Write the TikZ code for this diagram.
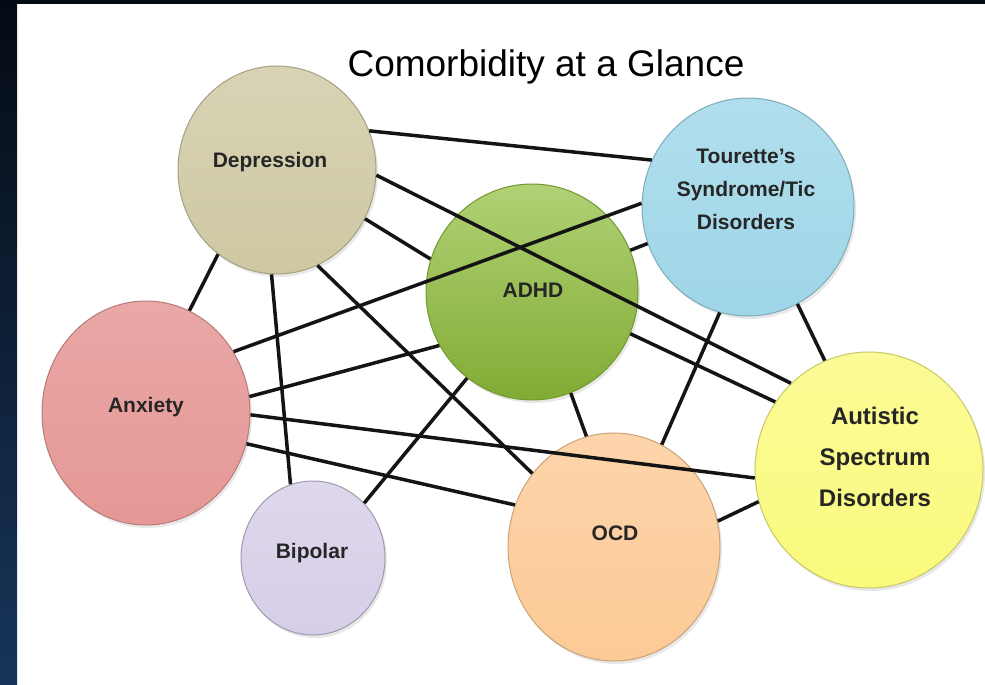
\documentclass[tikz,border=0pt]{standalone}
\usepackage{fontspec}
\setmainfont{Liberation Sans}
\usetikzlibrary{shapes.geometric,shadows}

\definecolor{depC}{HTML}{CEC8A2}
\definecolor{touC}{HTML}{9ED6E8}
\definecolor{adhdC}{HTML}{8FBE3A}
\definecolor{anxC}{HTML}{E59896}
\definecolor{bipC}{HTML}{D6CEE8}
\definecolor{ocdC}{HTML}{FCCA96}
\definecolor{autC}{HTML}{FAFA7D}
\definecolor{inkC}{HTML}{262626}
\definecolor{barTop}{HTML}{050B14}
\definecolor{barBot}{HTML}{17355A}

\begin{document}
\begin{tikzpicture}[x=1pt,y=-1pt,
  disorder/.style={ellipse, inner sep=0pt, line width=1pt,
    drop shadow={opacity=0.18, shadow xshift=2pt, shadow yshift=-3pt}},
  tag/.style={align=center, text=inkC, font=\bfseries\fontsize{21}{33}\selectfont},
  bigtag/.style={align=center, text=inkC, font=\bfseries\fontsize{24}{41}\selectfont},
  link/.style={draw=black!92, line width=3.5pt}]

% page frame
\useasboundingbox (0,0) rectangle (985,685);
\fill[white] (0,0) rectangle (985,685);
\shade[top color=barTop, bottom color=barBot] (0,0) rectangle (17,685);
\fill[barTop] (0,0) rectangle (985,4);

% title
\node[anchor=base, font=\fontsize{37}{40}\selectfont, text=black] (title)
  at (546,77) {Comorbidity at a Glance};

% disorders
\node[disorder, minimum width=198pt, minimum height=208pt,
  top color=depC!80!white, bottom color=depC, draw=depC!80!black] (dep) at (277,170) {};
\node[disorder, minimum width=212pt, minimum height=218pt,
  top color=touC!80!white, bottom color=touC, draw=touC!80!black] (tou) at (748,207) {};
\node[disorder, minimum width=212pt, minimum height=216pt,
  top color=adhdC!70!white, bottom color=adhdC!90!black, draw=adhdC!80!black] (adhd) at (532,292) {};
\node[disorder, minimum width=208pt, minimum height=224pt,
  top color=anxC!85!white, bottom color=anxC, draw=anxC!80!black] (anx) at (146,413) {};
\node[disorder, minimum width=144pt, minimum height=154pt,
  top color=bipC!80!white, bottom color=bipC, draw=bipC!75!black] (bip) at (313,558) {};
\node[disorder, minimum width=212pt, minimum height=228pt,
  top color=ocdC!80!white, bottom color=ocdC, draw=ocdC!80!black] (ocd) at (614,547) {};
\node[disorder, minimum width=228pt, minimum height=236pt,
  top color=autC!80!white, bottom color=autC, draw=autC!80!black] (aut) at (869,470) {};

% labels
\node[tag, anchor=base] (depL) at (270,167) {Depression};
\node[tag] (touL) at (746,189) {Tourette's\\Syndrome/Tic\\Disorders};
\node[tag, anchor=base] (adhdL) at (533,297) {ADHD};
\node[tag, anchor=base] (anxL) at (146,412) {Anxiety};
\node[tag, anchor=base] (bipL) at (312,558) {Bipolar};
\node[tag, anchor=base] (ocdL) at (615,540) {OCD};
\node[bigtag] (autL) at (875,457) {Autistic\\Spectrum\\Disorders};

% links between disorders
\draw[link] (dep.23)   -- (tou.154);
\draw[link] (dep.357)  -- (aut.132);
\draw[link] (dep.331)  -- (adhd.162);
\draw[link] (dep.293)  -- (ocd.138);
\draw[link] (dep.267)  -- (bip.107);
\draw[link] (dep.235)  -- (anx.67);
\draw[link] (anx.35)   -- (tou.178);
\draw[link] (adhd.23)  -- (tou.200);
\draw[link] (anx.9)    -- (adhd.210);
\draw[link] (anx.359)  -- (aut.184);
\draw[link] (anx.343)  -- (ocd.157);
\draw[link] (adhd.233) -- (bip.47);
\draw[link] (adhd.291) -- (ocd.104);
\draw[link] (adhd.337) -- (aut.144);
\draw[link] (ocd.65)   -- (tou.255);
\draw[link] (ocd.14)   -- (aut.196);
\draw[link] (tou.297)  -- (aut.112);
\end{tikzpicture}
\end{document}
